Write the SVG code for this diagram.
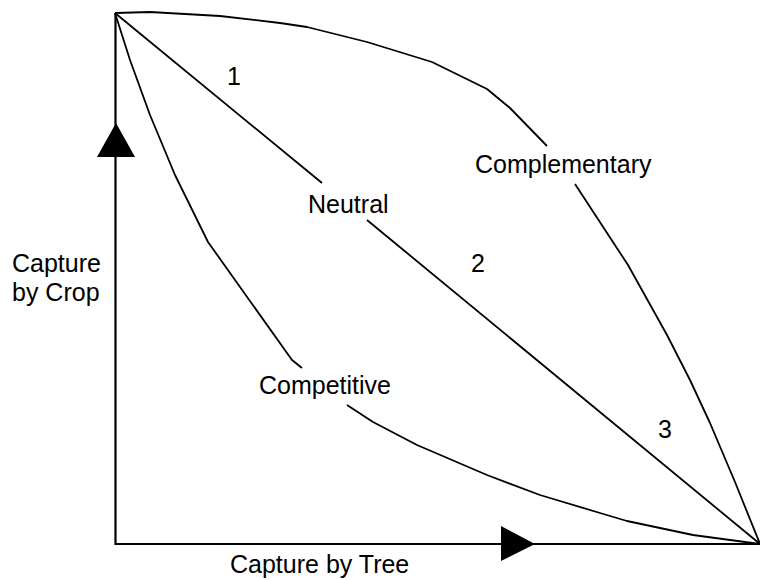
<svg xmlns="http://www.w3.org/2000/svg" width="760" height="580" viewBox="0 0 760 580">
<style>
.ln{fill:none;stroke:#000;stroke-width:1.8;stroke-linejoin:round}
.ax{fill:none;stroke:#000;stroke-width:2.2}
.ah{fill:#000;stroke:none}
text{font-family:"Liberation Sans",Arial,sans-serif;font-size:25px;fill:#000}
</style>
<rect width="760" height="580" fill="#fff"/>
<g id="axes">
<path class="ax" d="M115.5,13 V544 H760"/>
<polygon class="ah" points="116,123 97,157 135,157"/>
<polygon class="ah" points="501,526 501,561 535,544"/>
</g>
<g id="connectors">
<path id="complementary-curve" class="ln" d="M115,13 L150,12 L220,16 L280,23 L307,27 L367,42 L432,62 L487,89 L510,108 L547,146 M575,184 L628,265 L667,335 L690,380 L710,423 L735,482 L760,544"/>
<path id="neutral-line" class="ln" d="M115,13 L322,183 M367,220 L760,544"/>
<path id="competitive-curve" class="ln" d="M115,13 L130,60 L150,115 L175,175 L208,242 L292,360 L302,368 M347,405 L373,422 L417,445 L487,475 L540,495 L600,513 L627,521 L693,535 L760,544"/>
</g>
<g id="label-complementary"><text x="475" y="173">Complementary</text></g>
<g id="label-neutral"><text x="308" y="213">Neutral</text></g>
<g id="label-competitive"><text x="259" y="394">Competitive</text></g>
<g id="label-1"><text x="234" y="85" text-anchor="middle">1</text></g>
<g id="label-2"><text x="478" y="272" text-anchor="middle">2</text></g>
<g id="label-3"><text x="665" y="438" text-anchor="middle">3</text></g>
<g id="label-y"><text x="12" y="272">Capture</text><text x="12" y="301">by Crop</text></g>
<g id="label-x"><text x="230" y="573">Capture by Tree</text></g>
</svg>
